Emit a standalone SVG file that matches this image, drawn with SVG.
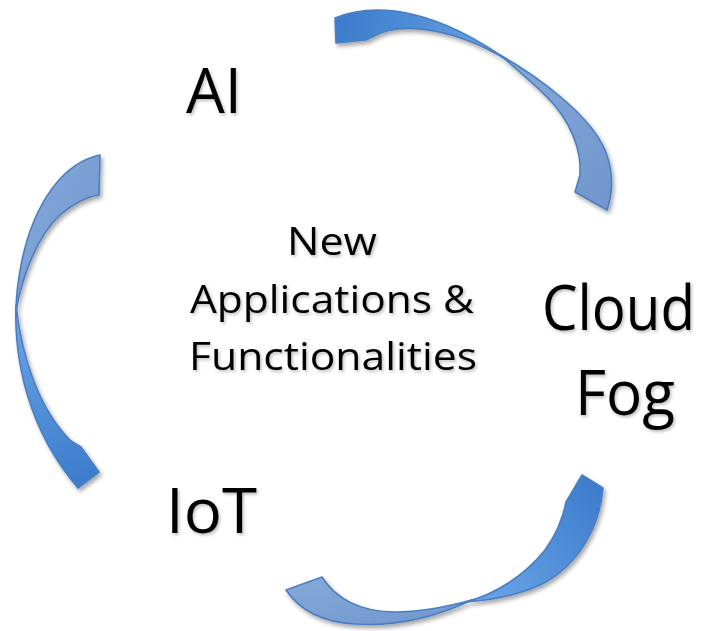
<svg xmlns="http://www.w3.org/2000/svg" width="717" height="631" viewBox="0 0 717 631">
  <defs>
    <filter id="sh" x="-20%" y="-20%" width="140%" height="140%">
      <feDropShadow dx="2" dy="3" stdDeviation="2.2" flood-color="#000" flood-opacity="0.35"/>
    </filter>
    <filter id="tsh" x="-10%" y="-10%" width="120%" height="130%">
      <feDropShadow dx="1.5" dy="2" stdDeviation="1.5" flood-color="#000" flood-opacity="0.25"/>
    </filter>
    <linearGradient id="gTop" gradientUnits="userSpaceOnUse" x1="335" y1="30" x2="505" y2="58">
      <stop offset="0" stop-color="#3B7BCB"/>
      <stop offset="1" stop-color="#6AA4E6"/>
    </linearGradient>
    <linearGradient id="gLeft" gradientUnits="userSpaceOnUse" x1="16" y1="305" x2="90" y2="485">
      <stop offset="0" stop-color="#6CA6E8"/>
      <stop offset="1" stop-color="#3B7BCB"/>
    </linearGradient>
    <linearGradient id="gBot" gradientUnits="userSpaceOnUse" x1="470" y1="600" x2="600" y2="480">
      <stop offset="0" stop-color="#6CA6E8"/>
      <stop offset="1" stop-color="#3B7BCB"/>
    </linearGradient>
    <linearGradient id="gMuted" x1="0" y1="0" x2="1" y2="1">
      <stop offset="0" stop-color="#86A9DA"/>
      <stop offset="1" stop-color="#7096CC"/>
    </linearGradient>
  </defs>
  <style>
    .rib { stroke: #4A7FC1; stroke-width: 1.6; stroke-linejoin: round; }
    .muted { fill: url(#gMuted); }
    .big { font-family: "Open Sans", "Liberation Sans", sans-serif; font-size: 63px; fill: #000; }
    .mid { font-family: "Open Sans", "Liberation Sans", sans-serif; font-size: 39px; fill: #000; }
  </style>

  <g id="connectors" filter="url(#sh)">
    <g id="arrow-top">
      <path class="rib muted" d="M500,55 C540,78 590,115 605,150 C615,175 612,195 607,210 L575,192 L580,175 C582,150 570,120 547,97 C535,85 520,72 500,55 Z"/>
      <path class="rib" fill="url(#gTop)" d="M335,18 C380,0 440,12 510,62 C465,33 405,18 372,37 L366,40 L336,43 Z"/>
    </g>
    <g id="arrow-left">
      <path class="rib muted" d="M100,155 C65,162 35,200 22,260 C18,280 16,295 16,312 C22,275 38,235 60,215 C72,205 85,197 99,195 Z"/>
      <path class="rib" fill="url(#gLeft)" d="M16,305 C14,360 28,430 78,488 L99,472 L81,447 L71,441 C40,410 22,360 16,305 Z"/>
    </g>
    <g id="arrow-bottom">
      <path class="rib muted" d="M472,600 C440,615 400,627 355,624 C320,622 298,608 286,590 L322,577 C335,598 360,612 395,612 C425,612 450,606 472,600 Z"/>
      <path class="rib" fill="url(#gBot)" d="M582,475 L603,488 C600,525 580,565 540,585 C520,594 495,600 465,602 C495,595 525,575 545,550 C556,535 563,518 566,502 L569,497 Z"/>
    </g>
  </g>

  <g id="node-ai" filter="url(#tsh)">
    <text class="big" x="186" y="113" textLength="56" lengthAdjust="spacingAndGlyphs">AI</text>
  </g>
  <g id="node-cloud-fog" filter="url(#tsh)">
    <text class="big" x="542" y="330" textLength="153" lengthAdjust="spacingAndGlyphs">Cloud</text>
    <text class="big" x="575" y="415" textLength="100" lengthAdjust="spacingAndGlyphs">Fog</text>
  </g>
  <g id="node-iot" filter="url(#tsh)">
    <text class="big" x="166" y="533" textLength="91" lengthAdjust="spacingAndGlyphs">IoT</text>
  </g>
  <g id="node-center" filter="url(#tsh)">
    <text class="mid" x="287" y="255" textLength="90" lengthAdjust="spacingAndGlyphs">New</text>
    <text class="mid" x="190" y="313" textLength="284" lengthAdjust="spacingAndGlyphs">Applications &amp;</text>
    <text class="mid" x="189" y="370" textLength="288" lengthAdjust="spacingAndGlyphs">Functionalities</text>
  </g>
</svg>
